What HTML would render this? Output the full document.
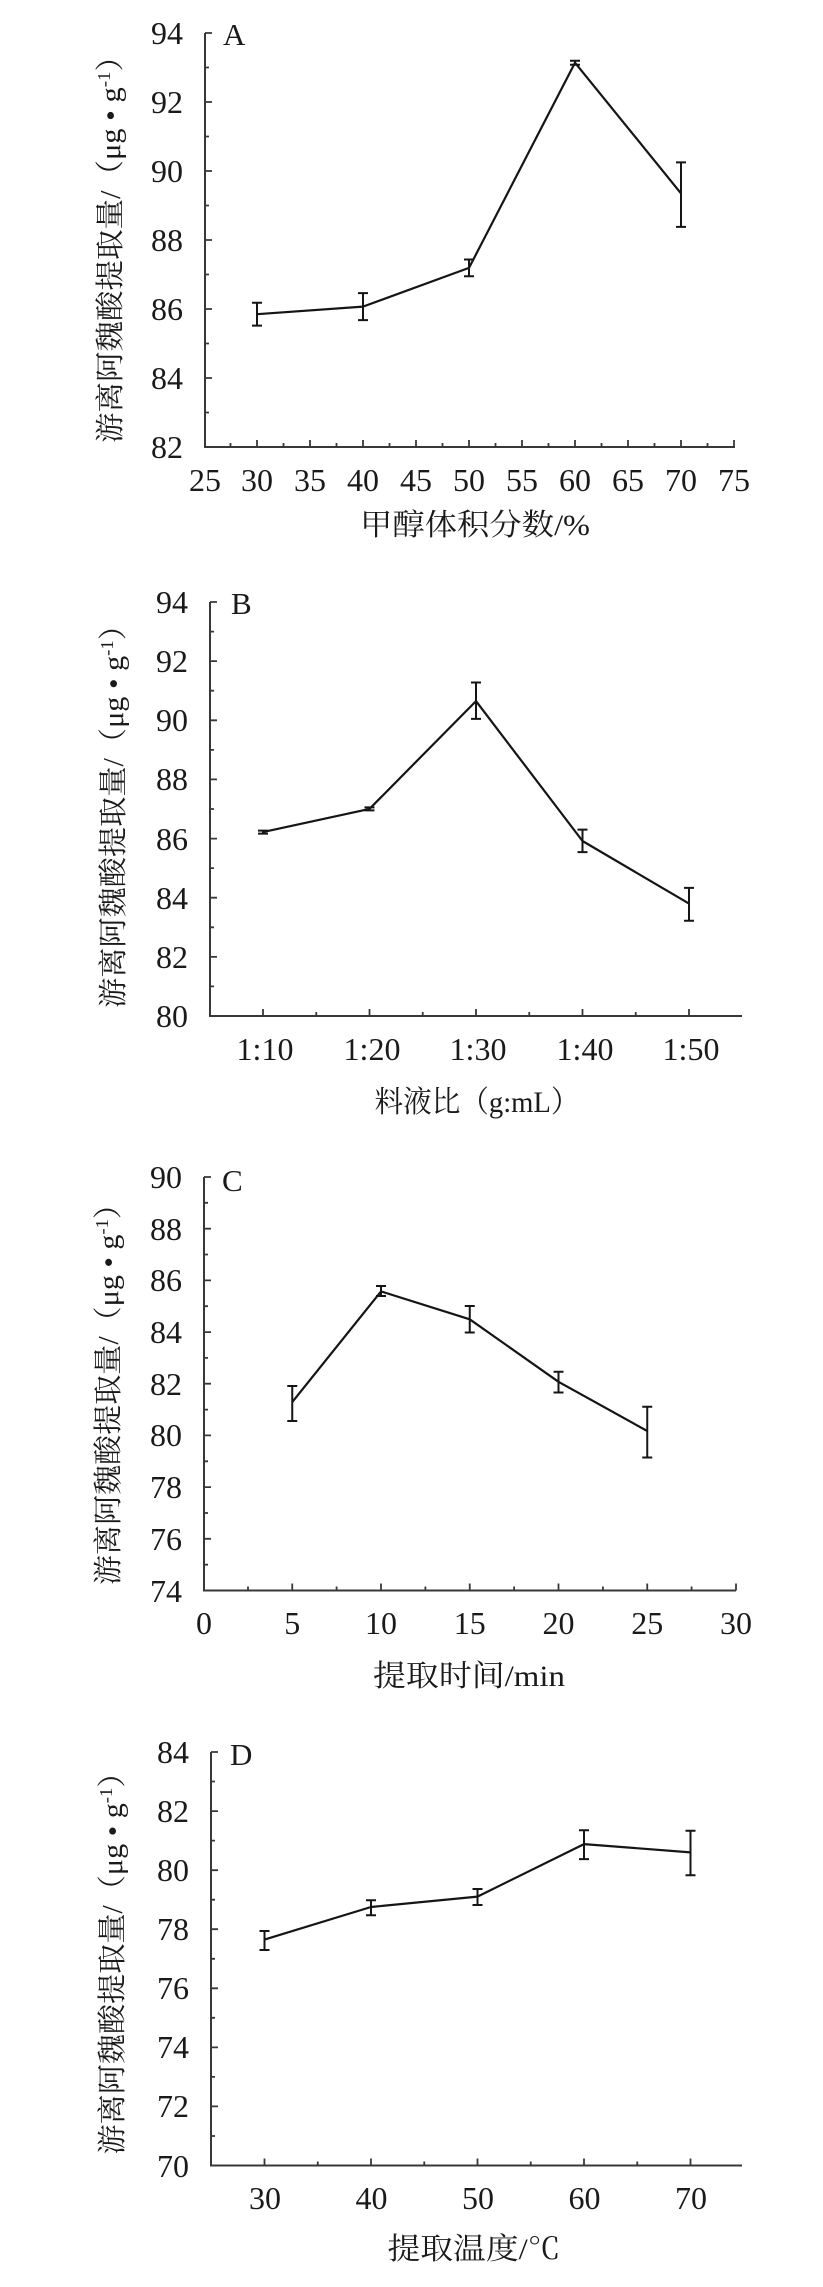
<!DOCTYPE html>
<html>
<head>
<meta charset="utf-8">
<style>
  html,body{margin:0;padding:0;background:#fff;}
  svg{display:block;}
  .ax{stroke:#383838;stroke-width:2;fill:none;}
  .tk{stroke:#383838;stroke-width:1.8;fill:none;}
  .ln{stroke:#151515;stroke-width:2.2;fill:none;stroke-linejoin:round;}
  .eb{stroke:#151515;stroke-width:2;fill:none;}
  .num{font-family:"Liberation Serif","Noto Serif CJK SC",serif;font-size:32px;fill:#1a1a1a;}
  .let{font-family:"Liberation Serif",serif;font-size:31px;fill:#1a1a1a;}
  .tit{font-family:"Liberation Serif","Noto Serif CJK SC",serif;font-size:30px;fill:#1a1a1a;}
  .yt{font-family:"Liberation Serif","Noto Serif CJK SC",serif;font-size:29px;fill:#1a1a1a;}
</style>
</head>
<body>
<svg width="823" height="2287" viewBox="0 0 823 2287" xmlns="http://www.w3.org/2000/svg">

<!-- ================= PANEL A ================= -->
<path class="ax" d="M205 33 V447 H735"/>
<path class="tk" d="M205 33 h7 M205 102 h7 M205 171 h7 M205 240 h7 M205 309 h7 M205 378 h7
 M205 67.5 h4 M205 136.5 h4 M205 205.5 h4 M205 274.5 h4 M205 343.5 h4 M205 412.5 h4"/>
<path class="tk" d="M257 447 v-7 M310 447 v-7 M363 447 v-7 M416 447 v-7 M469 447 v-7 M522 447 v-7 M575 447 v-7 M628 447 v-7 M681 447 v-7 M734 447 v-7
 M230.5 447 v-4 M283.5 447 v-4 M336.5 447 v-4 M389.5 447 v-4 M442.5 447 v-4 M495.5 447 v-4 M548.5 447 v-4 M601.5 447 v-4 M654.5 447 v-4 M707.5 447 v-4"/>
<g class="num" text-anchor="end">
  <text x="183" y="44">94</text>
  <text x="183" y="113">92</text>
  <text x="183" y="182">90</text>
  <text x="183" y="251">88</text>
  <text x="183" y="320">86</text>
  <text x="183" y="389">84</text>
  <text x="183" y="458">82</text>
</g>
<g class="num" text-anchor="middle">
  <text x="205" y="491">25</text>
  <text x="257" y="491">30</text>
  <text x="310" y="491">35</text>
  <text x="363" y="491">40</text>
  <text x="416" y="491">45</text>
  <text x="469" y="491">50</text>
  <text x="522" y="491">55</text>
  <text x="575" y="491">60</text>
  <text x="628" y="491">65</text>
  <text x="681" y="491">70</text>
  <text x="734" y="491">75</text>
</g>
<text class="let" x="223" y="45">A</text>
<polyline class="ln" points="257,314.2 363,306.6 469,267.9 575,62.7 681,193.4"/>
<path class="eb" d="M257 302.8 V325.6 M252 302.8 h10 M252 325.6 h10
 M363 293.1 V320.1 M358 293.1 h10 M358 320.1 h10
 M469 259.5 V276.3 M464 259.5 h10 M464 276.3 h10
 M575 60.7 V64.7 M570 60.7 h10 M570 64.7 h10
 M681 162.4 V226.9 M676 162.4 h10 M676 226.9 h10"/>
<text class="tit" x="475" y="535" text-anchor="middle" textLength="230" lengthAdjust="spacingAndGlyphs">甲醇体积分数/%</text>
<g transform="translate(120,242) rotate(-90)">
  <text class="yt" x="0" y="0" text-anchor="middle" textLength="402" lengthAdjust="spacingAndGlyphs">游离阿魏酸提取量/（μg • g<tspan dy="-10" font-size="18">-1</tspan><tspan dy="10">）</tspan></text>
</g>

<!-- ================= PANEL B ================= -->
<path class="ax" d="M210 602 V1016 H742"/>
<path class="tk" d="M210 602 h7 M210 661.1 h7 M210 720.3 h7 M210 779.4 h7 M210 838.6 h7 M210 897.7 h7 M210 956.9 h7
 M210 631.6 h4 M210 690.7 h4 M210 749.9 h4 M210 809 h4 M210 868.1 h4 M210 927.3 h4 M210 986.4 h4"/>
<path class="tk" d="M263 1016 v-7 M369.5 1016 v-7 M476 1016 v-7 M582.5 1016 v-7 M689 1016 v-7
 M316.25 1016 v-4 M422.75 1016 v-4 M529.25 1016 v-4 M635.75 1016 v-4"/>
<g class="num" text-anchor="end">
  <text x="188" y="613">94</text>
  <text x="188" y="672">92</text>
  <text x="188" y="731">90</text>
  <text x="188" y="790">88</text>
  <text x="188" y="850">86</text>
  <text x="188" y="909">84</text>
  <text x="188" y="968">82</text>
  <text x="188" y="1027">80</text>
</g>
<g class="num" text-anchor="middle">
  <text x="265" y="1060">1:10</text>
  <text x="372" y="1060">1:20</text>
  <text x="478" y="1060">1:30</text>
  <text x="585" y="1060">1:40</text>
  <text x="691" y="1060">1:50</text>
</g>
<text class="let" x="231" y="614">B</text>
<polyline class="ln" points="263,832.1 369.5,808.9 476,701.1 582.5,841 689,903.6"/>
<path class="eb" d="M263 830.6 V833.6 M258 830.6 h10 M258 833.6 h10
 M369.5 807.4 V810.4 M364.5 807.4 h10 M364.5 810.4 h10
 M476 682.5 V718.9 M471 682.5 h10 M471 718.9 h10
 M582.5 829.6 V852.1 M577.5 829.6 h10 M577.5 852.1 h10
 M689 887.9 V920.7 M684 887.9 h10 M684 920.7 h10"/>
<text class="tit" x="477" y="1112" text-anchor="middle" textLength="205" lengthAdjust="spacingAndGlyphs">料液比（g:mL）</text>
<g transform="translate(123,809) rotate(-90)">
  <text class="yt" x="0" y="0" text-anchor="middle" textLength="398" lengthAdjust="spacingAndGlyphs">游离阿魏酸提取量/（μg • g<tspan dy="-10" font-size="18">-1</tspan><tspan dy="10">）</tspan></text>
</g>

<!-- ================= PANEL C ================= -->
<path class="ax" d="M204 1177 V1590.5 H736"/>
<path class="tk" d="M204 1177 h7 M204 1228.7 h7 M204 1280.4 h7 M204 1332.1 h7 M204 1383.7 h7 M204 1435.4 h7 M204 1487.1 h7 M204 1538.8 h7
 M204 1202.8 h4 M204 1254.5 h4 M204 1306.2 h4 M204 1357.9 h4 M204 1409.6 h4 M204 1461.3 h4 M204 1513 h4 M204 1564.7 h4"/>
<path class="tk" d="M292.25 1590.5 v-7 M381 1590.5 v-7 M469.75 1590.5 v-7 M558.5 1590.5 v-7 M647.25 1590.5 v-7 M736 1590.5 v-7
 M248 1590.5 v-4 M336.6 1590.5 v-4 M425.4 1590.5 v-4 M514.1 1590.5 v-4 M602.9 1590.5 v-4 M691.6 1590.5 v-4"/>
<g class="num" text-anchor="end">
  <text x="182" y="1188">90</text>
  <text x="182" y="1240">88</text>
  <text x="182" y="1291">86</text>
  <text x="182" y="1343">84</text>
  <text x="182" y="1395">82</text>
  <text x="182" y="1446">80</text>
  <text x="182" y="1498">78</text>
  <text x="182" y="1550">76</text>
  <text x="182" y="1602">74</text>
</g>
<g class="num" text-anchor="middle">
  <text x="204" y="1634">0</text>
  <text x="292.25" y="1634">5</text>
  <text x="381" y="1634">10</text>
  <text x="469.75" y="1634">15</text>
  <text x="558.5" y="1634">20</text>
  <text x="647.25" y="1634">25</text>
  <text x="736" y="1634">30</text>
</g>
<text class="let" x="222" y="1191">C</text>
<polyline class="ln" points="292.25,1402.1 381,1291.4 469.75,1319.3 558.5,1381.8 647.25,1431"/>
<path class="eb" d="M292.25 1386 V1421 M287.25 1386 h10 M287.25 1421 h10
 M381 1286 V1296 M376 1286 h10 M376 1296 h10
 M469.75 1306 V1332.5 M464.75 1306 h10 M464.75 1332.5 h10
 M558.5 1371.8 V1392.5 M553.5 1371.8 h10 M553.5 1392.5 h10
 M647.25 1406.8 V1457.5 M642.25 1406.8 h10 M642.25 1457.5 h10"/>
<text class="tit" x="469" y="1686" text-anchor="middle" textLength="192" lengthAdjust="spacingAndGlyphs">提取时间/min</text>
<g transform="translate(118,1387) rotate(-90)">
  <text class="yt" x="0" y="0" text-anchor="middle" textLength="396" lengthAdjust="spacingAndGlyphs">游离阿魏酸提取量/（μg • g<tspan dy="-10" font-size="18">-1</tspan><tspan dy="10">）</tspan></text>
</g>

<!-- ================= PANEL D ================= -->
<path class="ax" d="M211 1752 V2165.5 H742"/>
<path class="tk" d="M211 1752 h7 M211 1811.1 h7 M211 1870.2 h7 M211 1929.2 h7 M211 1988.3 h7 M211 2047.4 h7 M211 2106.4 h7
 M211 1781.5 h4 M211 1840.6 h4 M211 1899.7 h4 M211 1958.8 h4 M211 2017.8 h4 M211 2076.9 h4 M211 2136 h4"/>
<path class="tk" d="M264.5 2165.5 v-7 M371 2165.5 v-7 M477.5 2165.5 v-7 M584 2165.5 v-7 M690.5 2165.5 v-7
 M317.75 2165.5 v-4 M424.25 2165.5 v-4 M530.75 2165.5 v-4 M637.25 2165.5 v-4"/>
<g class="num" text-anchor="end">
  <text x="189" y="1763">84</text>
  <text x="189" y="1822">82</text>
  <text x="189" y="1881">80</text>
  <text x="189" y="1940">78</text>
  <text x="189" y="1999">76</text>
  <text x="189" y="2058">74</text>
  <text x="189" y="2117">72</text>
  <text x="189" y="2177">70</text>
</g>
<g class="num" text-anchor="middle">
  <text x="265" y="2209">30</text>
  <text x="371.5" y="2209">40</text>
  <text x="478" y="2209">50</text>
  <text x="584.5" y="2209">60</text>
  <text x="691" y="2209">70</text>
</g>
<text class="let" x="230" y="1765">D</text>
<polyline class="ln" points="264.5,1939.6 371,1907 477.5,1896.6 584,1844.1 690.5,1852.4"/>
<path class="eb" d="M264.5 1931 V1950 M259.5 1931 h10 M259.5 1950 h10
 M371 1900.3 V1915.3 M366 1900.3 h10 M366 1915.3 h10
 M477.5 1889 V1905 M472.5 1889 h10 M472.5 1905 h10
 M584 1830.3 V1859.1 M579 1830.3 h10 M579 1859.1 h10
 M690.5 1830.7 V1875.2 M685.5 1830.7 h10 M685.5 1875.2 h10"/>
<text class="tit" x="474" y="2259" text-anchor="middle" textLength="173" lengthAdjust="spacingAndGlyphs">提取温度/℃</text>
<g transform="translate(122,1956) rotate(-90)">
  <text class="yt" x="0" y="0" text-anchor="middle" textLength="397" lengthAdjust="spacingAndGlyphs">游离阿魏酸提取量/（μg • g<tspan dy="-10" font-size="18">-1</tspan><tspan dy="10">）</tspan></text>
</g>

</svg>
</body>
</html>
